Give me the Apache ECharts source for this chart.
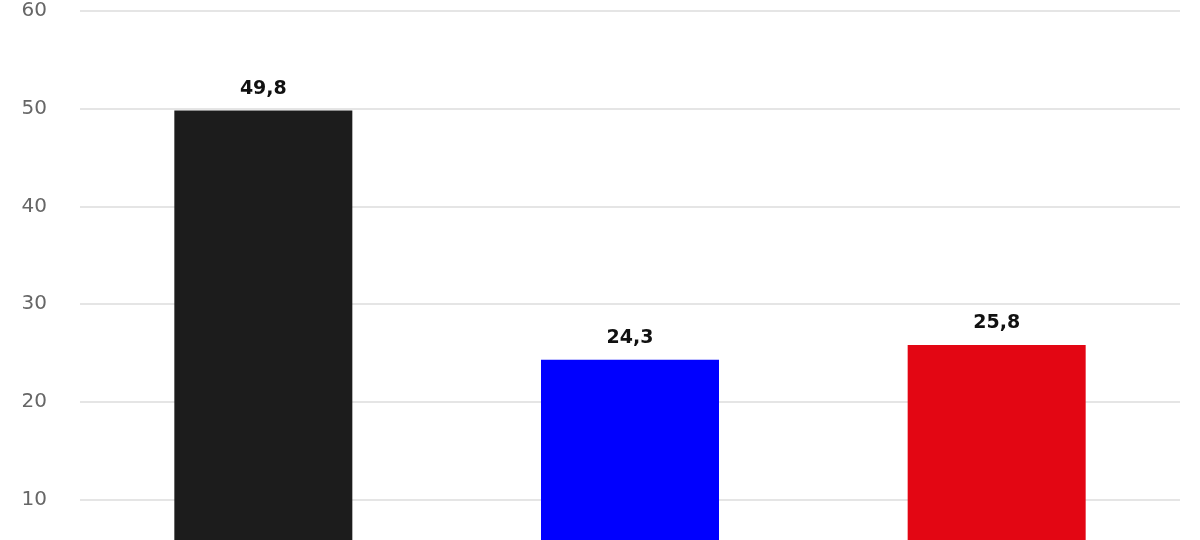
<!DOCTYPE html>
<html>
<head>
<meta charset="utf-8">
<title>Bar chart</title>
<style>
    *{margin:0;padding:0;}
    html,body{width:100%;height:100%;background:#fff;}
    #main{width:1200px;height:540px;}
</style>
</head>
<body>
<div id="main"></div>
<script src="https://cdn.jsdelivr.net/npm/echarts@6/dist/echarts.min.js"></script>
<script type="text/javascript">
    // data
    var categories = ['A', 'B', 'C'];
    var values = [49.8, 24.3, 25.8];
    var barColors = ['#1c1c1c', '#0000ff', '#e30613'];

    var myChart = echarts.init(document.getElementById('main'));

    var option = {
        animation: false,
        grid: {
            left: 80,
            right: 20,
            top: 11,
            bottom: -57,  // the axis runs below the visible area (picture is cropped)
            containLabel: false,
            outerBoundsMode: 'none'
        },
        xAxis: {
            type: 'category',
            data: categories,
            axisLine: {show: false},
            axisTick: {show: false},
            axisLabel: {show: false}
        },
        yAxis: {
            type: 'value',
            min: 0,
            max: 60,
            interval: 10,
            axisLine: {show: false},
            axisTick: {show: false},
            axisLabel: {
                margin: 33,
                padding: [6, 0, 0, 0],
                color: '#666666',
                fontFamily: 'DejaVu Sans',
                fontSize: 20
            },
            splitLine: {lineStyle: {color: '#dddddd', width: 1.5}}
        },
        series: [{
            type: 'bar',
            barWidth: 178,
            data: values.map(function (v, i) {
                return {value: v, itemStyle: {color: barColors[i]}};
            }),
            label: {
                show: true,
                position: 'top',
                distance: 12,
                color: '#111111',
                fontFamily: 'DejaVu Sans',
                fontWeight: 'bold',
                fontSize: 19,
                formatter: function (p) {
                    return String(p.value).replace('.', ',');
                }
            }
        }]
    };
    myChart.setOption(option);
</script>
</body>
</html>
